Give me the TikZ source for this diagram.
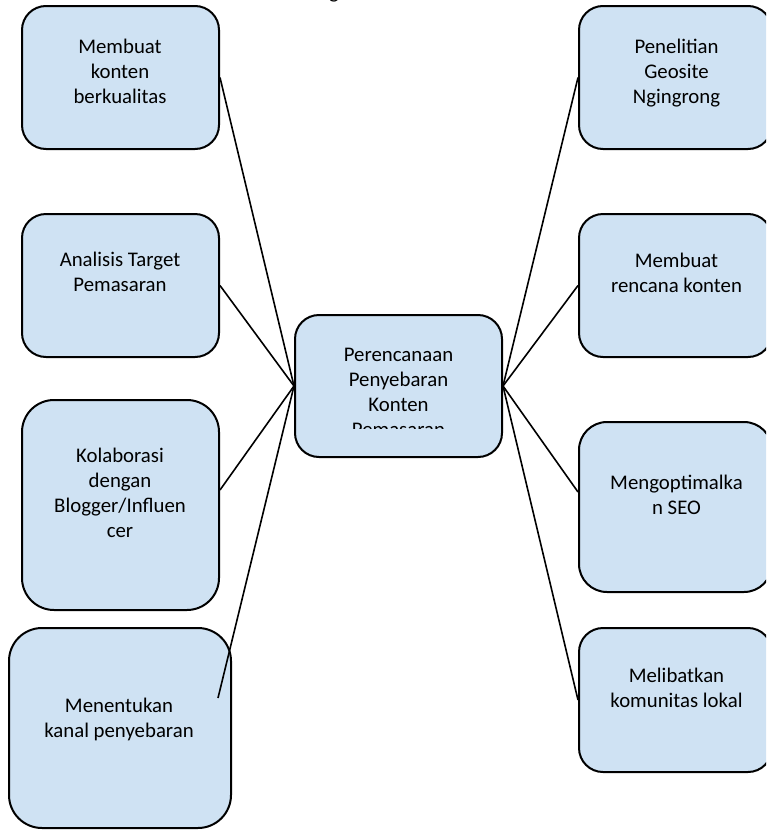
\documentclass[tikz,border=0pt]{standalone}
\usepackage{fontspec}
\setmainfont{Carlito}
\usepackage{xcolor}
\definecolor{birumuda}{HTML}{CFE2F3}

\begin{document}
\begin{tikzpicture}[x=1pt,y=-1pt]
\tikzset{align=center,
	font=\fontsize{20.8}{25}\selectfont}
\tikzset{kotak/.style = {shape=rectangle,draw,fill=birumuda,line width=2pt,rounded corners=24pt,inner sep=0pt}}
\tikzset{teks/.style = {inner sep=0pt,execute at begin node=\strut,execute at end node=\strut}}
\tikzset{edge/.style = {-,line width=1.6pt}}
\useasboundingbox (0,0) rectangle (766,830);
\clip (0,0) rectangle (766,830);
\node[anchor=base,inner sep=0pt] (judul) at (334,-1.5) {g};
% kotak
\node[kotak,minimum width=197pt,minimum height=143pt] (1) at (120.5,77.5) {};
\node[kotak,minimum width=197pt,minimum height=143pt] (2) at (120.5,285.5) {};
\node[kotak,minimum width=197pt,minimum height=210pt,rounded corners=32pt] (3) at (120.5,505) {};
\node[kotak,minimum width=222pt,minimum height=200pt,rounded corners=33pt] (4) at (120,728) {};
\node[kotak,minimum width=207pt,minimum height=142pt] (0) at (398.5,386) {};
\node[kotak,minimum width=193pt,minimum height=143pt] (5) at (675.5,77.5) {};
\node[kotak,minimum width=193pt,minimum height=143pt] (6) at (675.5,285.5) {};
\node[kotak,minimum width=193pt,minimum height=170pt,rounded corners=28pt] (7) at (675.5,507) {};
\node[kotak,minimum width=193pt,minimum height=144pt] (8) at (675.5,700) {};
\coordinate (u4) at (218,698);

%edges
\draw[edge] (0.west) edge node{} (1.east);
\draw[edge] (0.west) edge node{} (2.east);
\draw[edge] (0.west) edge node{} ([yshift=15pt]3.east);
\draw[edge] (0.west) edge node{} (u4);
\draw[edge] (0.east) edge node{} (5.west);
\draw[edge] (0.east) edge node{} (6.west);
\draw[edge] (0.east) edge node{} ([yshift=15pt]7.west);
\draw[edge] (0.east) edge node{} (8.west);

% teks
\node[teks] (t1) at (120,75) {Membuat\\konten\\berkualitas};
\node[teks] (t2) at (120,276) {Analisis Target\\Pemasaran};
\node[teks] (t3) at (120,496.5) {Kolaborasi\\dengan\\Blogger/Influen\\cer};
\node[teks] (t4) at (119,721.5) {Menentukan\\kanal penyebaran};
\node[teks] (t5) at (676.5,75) {Penelitian\\Geosite\\Ngingrong};
\node[teks] (t6) at (676.5,276.5) {Membuat\\rencana konten};
\node[teks] (t7) at (676.5,498.5) {Mengoptimalka\\n SEO};
\node[teks] (t8) at (676.5,691.5) {Melibatkan\\komunitas lokal};
\begin{scope}
\clip (295,315) rectangle (502,428.5);
\node[teks] (t0) at (398.5,396) {Perencanaan\\Penyebaran\\Konten\\Pemasaran};
\end{scope}
\end{tikzpicture}
\end{document}
